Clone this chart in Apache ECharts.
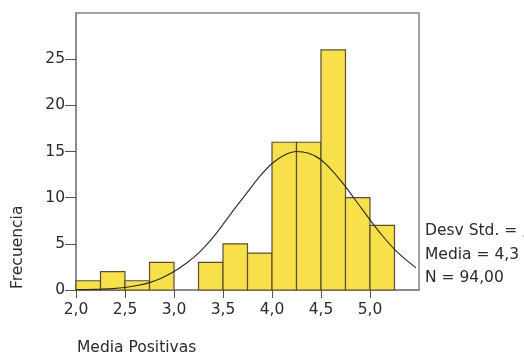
<!DOCTYPE html>
<html>
<head>
<meta charset="utf-8">
<script src="https://cdn.jsdelivr.net/npm/echarts@6/dist/echarts.min.js"></script>
<style>
html,body{margin:0;padding:0;background:#fff;}
#c{width:524px;height:358px;}
</style>
</head>
<body>
<div id="c"></div>
<script>
// Histogram bins (start of each 0.25-wide bin) and counts
var binStarts = [2.0, 2.25, 2.5, 2.75, 3.0, 3.25, 3.5, 3.75, 4.0, 4.25, 4.5, 4.75, 5.0];
var counts    = [1, 2, 1, 3, 0, 3, 5, 4, 16, 16, 26, 10, 7];
var binWidth = 0.25;

// Fitted normal curve
var curveX = [2.0, 2.125, 2.25, 2.375, 2.5, 2.625, 2.75, 2.875, 3.0, 3.125, 3.25, 3.375, 3.5, 3.625, 3.75, 3.875, 4.0, 4.125, 4.25, 4.375, 4.5, 4.625, 4.75, 4.875, 5.0, 5.125, 5.25, 5.375, 5.47];
var curveY = [0.03, 0.05, 0.09, 0.15, 0.27, 0.48, 0.8, 1.3, 2.0, 2.9, 4.0, 5.4, 7.1, 8.9, 10.6, 12.3, 13.7, 14.6, 15.0, 14.8, 14.1, 12.8, 11.2, 9.4, 7.6, 5.9, 4.4, 3.2, 2.4];

var xTicks = [2.0, 2.5, 3.0, 3.5, 4.0, 4.5, 5.0];
var yTicks = [0, 5, 10, 15, 20, 25];
var statLines = ['Desv Std. = ,62', 'Media = 4,3', 'N = 94,00'];
var xTitle = 'Media Positivas';
var yTitle = 'Frecuencia';

var FONT = 'DejaVu Sans';
var FS = 15.5;
var TXT = '#2b2b2b';
var TFONT = FS + 'px "DejaVu Sans"';

var barData = binStarts.map(function (s, i) { return [s, s + binWidth, counts[i]]; });
var lineData = curveX.map(function (x, i) { return [x, curveY[i]]; });

var chart = echarts.init(document.getElementById('c'));
chart.setOption({
  animation: false,
  backgroundColor: '#ffffff',
  grid: { left: 76, right: 105, top: 13, bottom: 68, show: true, borderColor: '#858585', borderWidth: 1.5, backgroundColor: 'transparent' },
  xAxis: {
    type: 'value', min: 2.0, max: 5.5,
    axisLine: { show: true, onZero: false, lineStyle: { color: '#858585', width: 1.5 } },
    axisTick: { show: true, length: 8, customValues: xTicks, lineStyle: { color: '#555' } },
    splitLine: { show: false },
    axisLabel: {
      color: TXT, fontFamily: FONT, fontSize: FS, margin: 12,
      customValues: xTicks,
      formatter: function (v) { return v.toFixed(1).replace('.', ','); }
    }
  },
  yAxis: {
    type: 'value', min: 0, max: 30,
    axisLine: { show: true, lineStyle: { color: '#858585', width: 1.5 } },
    axisTick: { show: true, length: 11, customValues: yTicks, lineStyle: { color: '#555' } },
    splitLine: { show: false },
    axisLabel: {
      color: TXT, fontFamily: FONT, fontSize: FS, margin: 11,
      customValues: yTicks,
      formatter: function (v) { return String(v); }
    }
  },
  series: [
    {
      type: 'custom',
      data: barData,
      encode: { x: [0, 1], y: 2 },
      renderItem: function (params, api) {
        var p0 = api.coord([api.value(0), 0]);
        var p1 = api.coord([api.value(1), api.value(2)]);
        if (api.value(2) <= 0) return null;
        return {
          type: 'rect',
          shape: { x: p0[0], y: p1[1], width: p1[0] - p0[0], height: p0[1] - p1[1] },
          style: { fill: '#f8e04a', stroke: '#5a4d35', lineWidth: 1.2 }
        };
      },
      z: 2
    },
    {
      type: 'line',
      data: lineData,
      smooth: 0.3,
      showSymbol: false,
      lineStyle: { color: '#2a2a2a', width: 1.1 },
      z: 3
    }
  ],
  graphic: [
    { type: 'text', left: 77, top: 340, style: { text: xTitle, fill: TXT, font: TFONT } },
    { type: 'text', x: 10, y: 289, rotation: Math.PI / 2, style: { text: yTitle, fill: TXT, font: TFONT, textVerticalAlign: 'top' } },
    { type: 'text', x: 425, y: 223, style: { text: statLines[0], fill: TXT, font: TFONT } },
    { type: 'text', x: 425, y: 247, style: { text: statLines[1], fill: TXT, font: TFONT } },
    { type: 'text', x: 425, y: 270, style: { text: statLines[2], fill: TXT, font: TFONT } }
  ]
});
</script>
</body>
</html>
